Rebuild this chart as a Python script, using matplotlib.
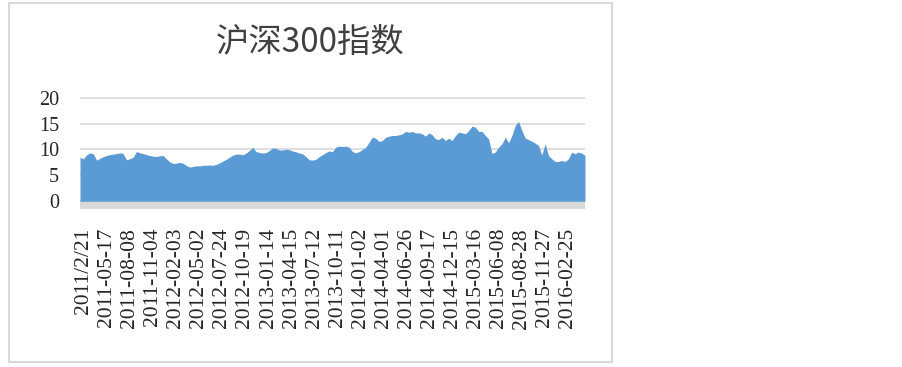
import numpy as np
import matplotlib
matplotlib.use('Agg')
import matplotlib.pyplot as plt
from matplotlib.transforms import ScaledTranslation
from matplotlib.patches import Rectangle

title = "沪深300指数"
tick_labels = ["2011/2/21", "2011-05-17", "2011-08-08", "2011-11-04", "2012-02-03",
               "2012-05-02", "2012-07-24", "2012-10-19", "2013-01-14", "2013-04-15",
               "2013-07-12", "2013-10-11", "2014-01-02", "2014-04-01", "2014-06-26",
               "2014-09-17", "2014-12-15", "2015-03-16", "2015-06-08", "2015-08-28",
               "2015-11-27", "2016-02-25"]
label_step = 58      # trading days between labels
span_days = 1270     # trading days covered by the series
y_ticks = [0, 5, 10, 15, 20]

pe_part1 = [8.5, 8.2, 8.96, 9.35, 9.16, 7.95, 8.3, 8.6, 8.83, 9.0,
            9.1, 9.2, 9.35, 9.2, 8.0, 8.2, 8.5, 9.6, 9.35, 9.2,
            9.0, 8.83, 8.7, 8.64, 8.77, 8.83, 8.2, 7.6, 7.3, 7.35,
            7.5, 7.35, 6.9, 6.6, 6.7, 6.85, 6.8, 6.95, 6.95, 7.0,
            6.95, 7.1, 7.4, 7.75, 8.1, 8.5, 8.9, 9.1, 9.1, 8.96,
            9.3, 9.8, 10.4, 9.6, 9.4, 9.3, 9.4, 9.8, 10.3, 10.2,
            9.9, 9.9, 10.05, 9.95, 9.7, 9.55, 9.3, 9.16, 8.6, 8.0,
            7.95, 8.1, 8.6, 9.0, 9.4, 9.7, 9.6]
pe_part2 = [10.44, 10.64, 10.57, 10.64, 10.44, 9.6, 9.35, 9.6, 10.0, 10.44,
            11.4, 12.37, 12.18, 11.54, 11.73, 12.37, 12.57, 12.7, 12.7, 12.82,
            13.02, 13.47, 13.34, 13.47, 13.2, 13.2, 13.02, 12.57, 13.2, 12.82,
            12.05, 11.92, 12.37, 11.73, 12.18, 11.73, 12.7, 13.34, 13.2, 13.02,
            13.66, 14.5, 14.3, 13.47, 13.47, 12.7, 12.05, 9.2, 9.5, 10.44,
            11.09, 12.37, 11.3, 12.7, 14.63, 15.4, 13.66, 12.2, 11.9, 11.6,
            11.2, 10.8, 8.96, 11.09, 8.83, 8.2, 7.68, 7.68, 7.87, 7.68,
            8.2, 9.48, 9.16, 9.5, 9.3, 8.83]
pe_values = pe_part1 + pe_part2

W, H = 903, 367
fig = plt.figure(figsize=(W / 100, H / 100), dpi=100)
ax_left, ax_right = 80, 585
ax_top, ax_bottom = 96.1, 208.5
ax = fig.add_axes([ax_left / W, 1 - ax_bottom / H, (ax_right - ax_left) / W, (ax_bottom - ax_top) / H])

x = np.linspace(0, span_days, len(pe_values))
ax.fill_between(x, 0, pe_values, color='#5b9bd5', lw=0, zorder=3)
ax.axhspan(-1.4, 0, color='#d9d9d9', lw=0, zorder=2)
ax.set_xlim(0, span_days)
ax.set_ylim(-1.4, 20.3)
ax.set_yticks(y_ticks)
ax.set_yticklabels([str(v) for v in y_ticks])
ax.yaxis.grid(True, color='#d9d9d9', lw=1.2)
ax.set_axisbelow(True)
for s in ax.spines.values():
    s.set_visible(False)

ax.set_xticks([i * label_step for i in range(len(tick_labels))])
ax.set_xticklabels(tick_labels, rotation=90, va='top', ha='center')
ax.tick_params(axis='both', length=0, labelcolor='#262626')
ax.tick_params(axis='x', pad=14)
ax.tick_params(axis='y', pad=15)
for lab in ax.get_yticklabels():
    lab.set_fontfamily('Liberation Serif')
    lab.set_fontsize(14.5)
for lab in ax.get_xticklabels():
    lab.set_fontfamily('Liberation Serif')
    lab.set_fontsize(15.5)
offset = ScaledTranslation(3.5 / 100, 0, fig.dpi_scale_trans)
for lab in ax.get_xticklabels():
    lab.set_transform(lab.get_transform() + offset)

fig.text(310 / W, 1 - 42 / H, title, ha='center', va='center', fontsize=24,
         color='#404040', family=['Noto Sans CJK SC', 'DejaVu Sans'])

fig.add_artist(Rectangle((8.5 / W, 1 - 361.5 / H), 604 / W, 359 / H, transform=fig.transFigure,
                         fill=False, ec='#d9d9d9', lw=1.5))

fig.savefig('out.png', dpi=100, facecolor='white')
